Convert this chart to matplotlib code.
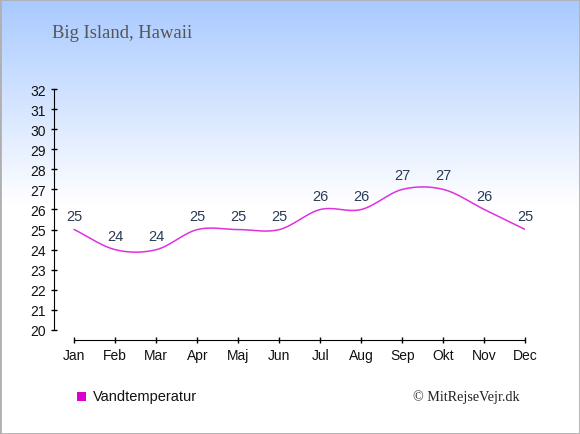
import numpy as np
import matplotlib
matplotlib.use("Agg")
import matplotlib.pyplot as plt
from matplotlib.patches import Rectangle

months = ["Jan", "Feb", "Mar", "Apr", "Maj", "Jun", "Jul", "Aug", "Sep", "Okt", "Nov", "Dec"]
water_temp = [25, 24, 24, 25, 25, 25, 26, 26, 27, 27, 26, 25]
y_ticks = list(range(20, 33))
title = "Big Island, Hawaii"
legend_label = "Vandtemperatur"
credit = "\u00a9 MitRejseVejr.dk"

W, H = 580, 435
fig = plt.figure(figsize=(W / 100, H / 100), dpi=100)

# background gradient
bg = fig.add_axes([0, 0, 1, 1])
bg.set_axis_off()
grad_end = 205
top = np.array([0.66, 0.79, 1.0])
img = np.ones((H, 2, 3))
for i in range(H):
    t = min(i / grad_end, 1.0)
    img[i, :, :] = top * (1 - t) + np.array([1, 1, 1]) * t
bg.imshow(img, aspect="auto", extent=[0, 1, 0, 1], origin="upper")
bg.add_patch(Rectangle((0, 0), 1, 1, transform=bg.transAxes, fill=False,
                       edgecolor="#b0b0b0", linewidth=2))
bg.set_xlim(0, 1)
bg.set_ylim(0, 1)

# plot axes in pixel coordinates
left_px, right_px, top_px, bottom_px = 54, 525.3, 90, 341
ax = fig.add_axes([left_px / W, 1 - bottom_px / H, (right_px - left_px) / W, (bottom_px - top_px) / H])
ax.patch.set_alpha(0)
x = np.arange(len(months))
step = (right_px - 74.3) / 11
ax.set_xlim(-(74.3 - left_px) / step, 11)
ax.set_ylim(20 - 10 / 20.08, 32)

# smooth line (Catmull-Rom rendering through the data points)
y = np.array(water_temp, dtype=float)
n = len(y)
tang = np.zeros(n)
tang[1:-1] = (y[2:] - y[:-2]) / 2
tang[0] = y[1] - y[0]
tang[-1] = y[-1] - y[-2]
xs, ys = [], []
for i in range(n - 1):
    s = np.linspace(0, 1, 30)
    h00 = 2 * s**3 - 3 * s**2 + 1
    h10 = s**3 - 2 * s**2 + s
    h01 = -2 * s**3 + 3 * s**2
    h11 = s**3 - s**2
    xs.extend(i + s)
    ys.extend(h00 * y[i] + h10 * tang[i] + h01 * y[i + 1] + h11 * tang[i + 1])
ax.plot(xs, ys, color="#e030e0", linewidth=1.1)

for xi, v in zip(x, water_temp):
    ax.annotate(str(v), (xi, v), xytext=(0, 5), textcoords="offset points",
                ha="center", va="bottom", fontsize=10.5, color="#2b3a55",
                family="Liberation Sans")

for s in ["top", "right"]:
    ax.spines[s].set_visible(False)
ax.spines["left"].set_bounds(20, 32)
ax.spines["bottom"].set_bounds(0, 11)
ax.set_xticks(x)
ax.set_xticklabels(months)
ax.set_yticks(y_ticks)
ax.tick_params(direction="inout", length=5, width=1, labelsize=10, colors="black")
for lbl in ax.get_xticklabels() + ax.get_yticklabels():
    lbl.set_family("Liberation Sans")
    lbl.set_color("#111111")

fig.text(52 / W, 1 - 33 / H, title, fontsize=13.4, color="#555555",
         family="Liberation Serif", va="center", ha="left")

fig.patches.append(Rectangle((77 / W, 1 - 402 / H), 9 / W, 9 / H, transform=fig.transFigure,
                             facecolor="#dd00cc", edgecolor="none", figure=fig))
fig.text(93 / W, 1 - 397.5 / H, legend_label, fontsize=10.5, color="#111111",
         family="Liberation Sans", va="center", ha="left")
fig.text(520 / W, 1 - 397.5 / H, credit, fontsize=10.2, color="#222222",
         family="Liberation Serif", va="center", ha="right")

fig.savefig("out.png", dpi=100)
